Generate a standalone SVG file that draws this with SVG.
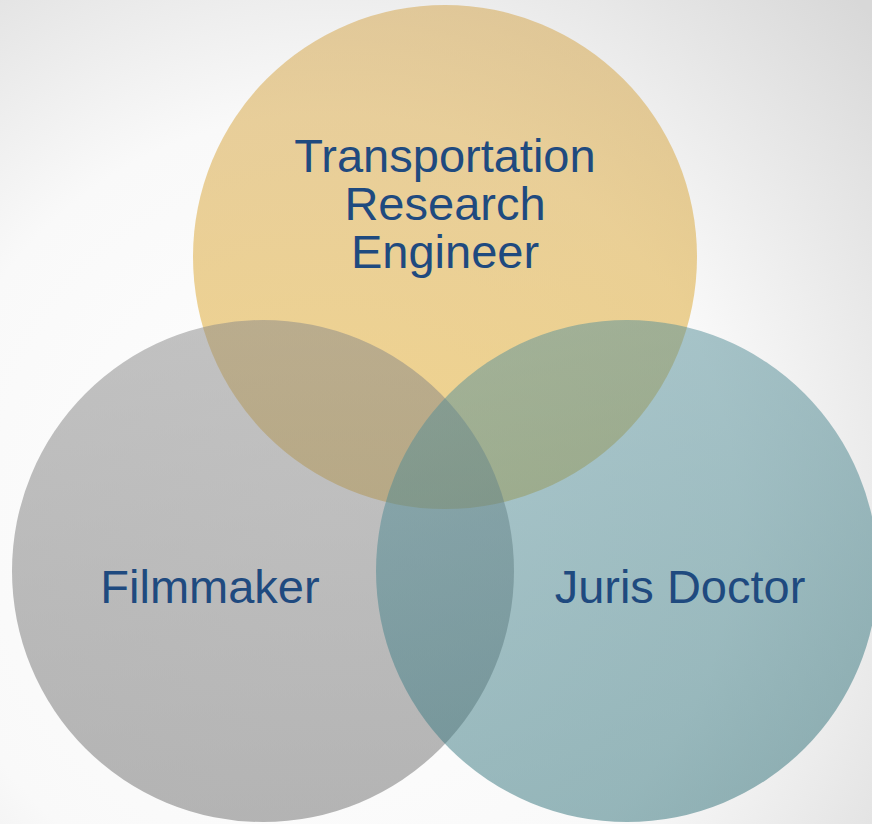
<svg xmlns="http://www.w3.org/2000/svg" width="872" height="824" viewBox="0 0 872 824">
  <defs>
    <radialGradient id="bg" cx="330" cy="520" r="740" gradientUnits="userSpaceOnUse">
      <stop offset="0" stop-color="#FFFFFF"/>
      <stop offset="0.55" stop-color="#F9F9F9"/>
      <stop offset="1" stop-color="#D8D8D8"/>
    </radialGradient>
    <linearGradient id="gYellow" x1="0" y1="0" x2="0" y2="1">
      <stop offset="0" stop-color="#D3A245"/>
      <stop offset="1" stop-color="#E3A91C"/>
    </linearGradient>
    <linearGradient id="gGray" x1="0" y1="0" x2="0" y2="1">
      <stop offset="0" stop-color="#888888"/>
      <stop offset="1" stop-color="#6D6D6D"/>
    </linearGradient>
    <linearGradient id="gTeal" x1="0.2" y1="0" x2="0.5" y2="1">
      <stop offset="0" stop-color="#59929C"/>
      <stop offset="1" stop-color="#307179"/>
    </linearGradient>
  </defs>
  <style>
    .circle { fill-opacity: 0.5; }
    .label { font-family: "Liberation Sans", Arial, sans-serif; font-size: 47px; fill: #1F4A7F; text-anchor: middle; }
  </style>
  <rect x="0" y="0" width="872" height="824" fill="url(#bg)"/>
  <g id="node-transportation">
    <circle class="circle" cx="445" cy="257" r="252" fill="url(#gYellow)"/>
  </g>
  <g id="node-filmmaker">
    <circle class="circle" cx="263" cy="571" r="251" fill="url(#gGray)"/>
  </g>
  <g id="node-juris">
    <circle class="circle" cx="627" cy="571" r="251" fill="url(#gTeal)"/>
  </g>
  <g id="connectors"></g>
  <g id="labels">
    <text class="label" x="445" y="172">Transportation</text>
    <text class="label" x="445" y="220">Research</text>
    <text class="label" x="445" y="268">Engineer</text>
    <text class="label" x="210" y="603">Filmmaker</text>
    <text class="label" x="680" y="603">Juris Doctor</text>
  </g>
</svg>
